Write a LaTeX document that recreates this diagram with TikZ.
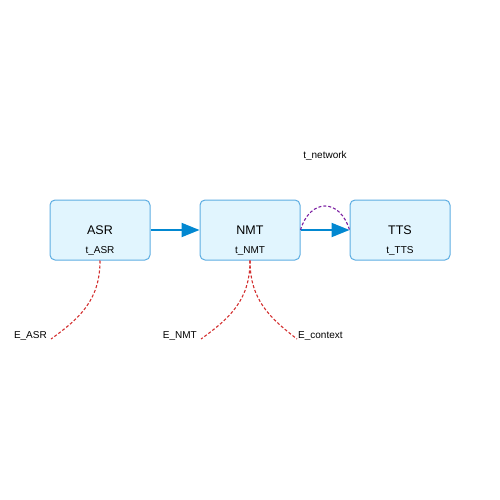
\documentclass[tikz,border=0pt]{standalone}
\usepackage{fontspec}
\setmainfont{Liberation Sans}
\usetikzlibrary{arrows.meta}
\definecolor{boxfill}{RGB}{225,245,254}
\definecolor{boxline}{RGB}{93,173,226}
\definecolor{flowblue}{RGB}{2,136,209}
\definecolor{errred}{RGB}{211,47,47}
\definecolor{netpurple}{RGB}{123,31,162}
\tikzset{
 stage/.style={draw=boxline, fill=boxfill, line width=1pt, rounded corners=5pt,
   minimum width=100pt, minimum height=60pt, inner sep=0pt, font=\fontsize{12.5}{14}\selectfont},
 small/.style={font=\fontsize{10}{12}\selectfont, inner sep=1pt},
 flow/.style={flowblue, line width=2pt, -{Triangle[length=18pt,width=14pt]}},
 err/.style={errred, line width=1.1pt, dash pattern=on 3pt off 2pt},
 net/.style={netpurple, line width=1.1pt, dash pattern=on 3pt off 2pt}
}
\begin{document}
\begin{tikzpicture}[x=1pt, y=-1pt]
\useasboundingbox (0,0) rectangle (500,500);
\node[stage] (asr) at (100,230) {ASR};
\node[stage] (nmt) at (250,230) {NMT};
\node[stage] (tts) at (400,230) {TTS};
\foreach \s/\t in {asr/ASR, nmt/NMT, tts/TTS} {
 \node[small] at ([yshift=9pt]\s.south) {t\_\t};
}
\draw[flow] (asr) -- (nmt);
\draw[flow] (nmt) -- (tts);
\draw[net] (nmt.east) .. controls (310,198) and (340,198) .. (tts.west);
\node[small] (tnet) at (325,156) {t\_network};
% error sources
\coordinate (easr) at (51,339);
\coordinate (enmt) at (201,339);
\coordinate (ectx) at (297,339);
\node[small, anchor=east] (easrlbl) at (48,336) {E\_ASR};
\node[small, anchor=east] (enmtlbl) at (198,336) {E\_NMT};
\node[small, anchor=west] (ectxlbl) at (297,336) {E\_context};
\draw[err] (asr.south) .. controls (100,300) and (80,318) .. (easr);
\draw[err] (nmt.south) .. controls (250,300) and (230,318) .. (enmt);
\draw[err] (nmt.south) .. controls (250,300) and (270,318) .. (ectx);
\end{tikzpicture}
\end{document}
